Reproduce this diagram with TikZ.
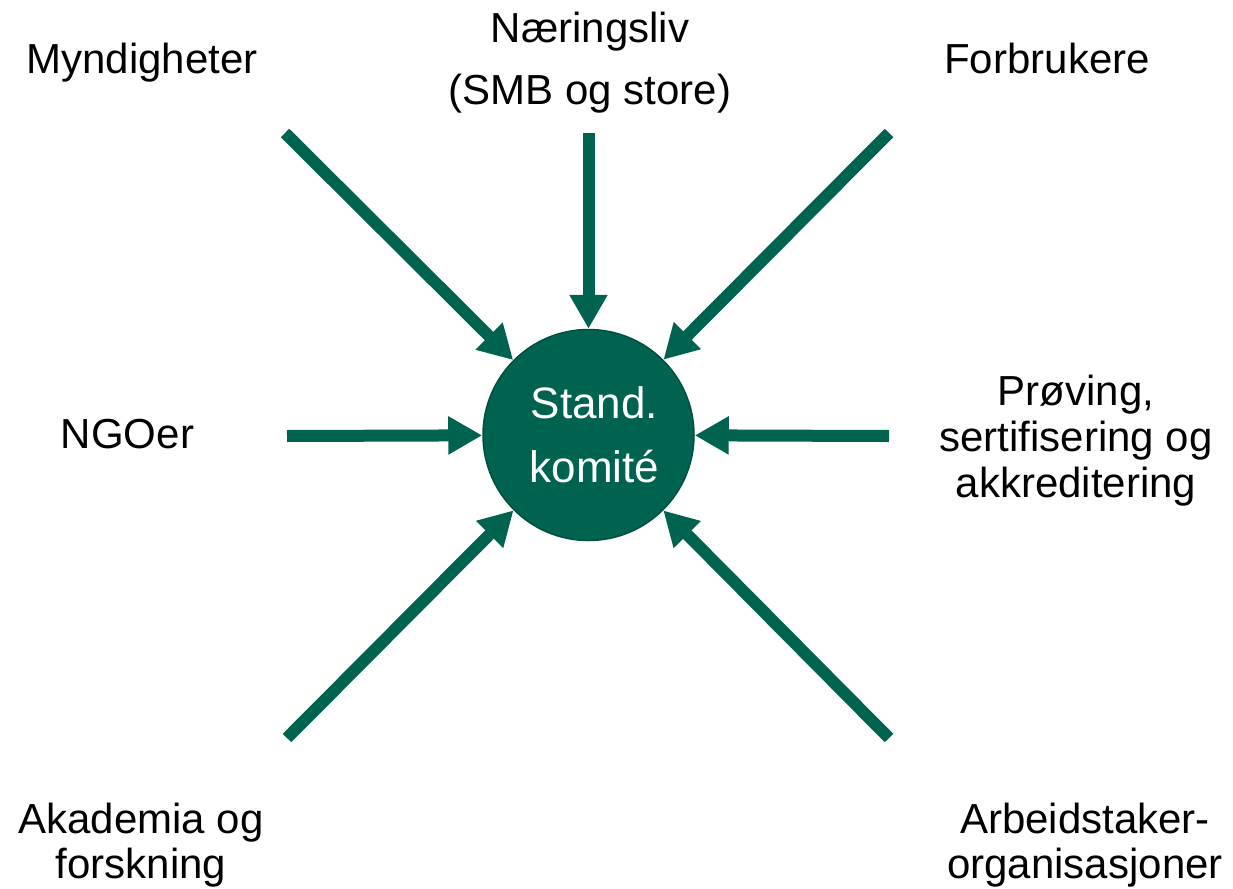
\documentclass[tikz,border=0pt]{standalone}
\usepackage{fontspec}
\setmainfont{Liberation Sans}
\usetikzlibrary{arrows.meta}
\definecolor{sngreen}{RGB}{0,99,80}
\definecolor{sndark}{RGB}{0,80,64}
\newcommand\lblstrut{\rule{0pt}{36pt}}
\begin{document}
\begin{tikzpicture}[x=1pt,y=-1pt,
  lbl/.style={align=center, anchor=north, inner sep=0pt, font=\fontsize{42}{46}\selectfont},
  feed/.style={draw=sngreen, line width=12pt, -{Triangle[length=34pt,width=36pt]}},
  hub/.style={circle, fill=sngreen, draw=sndark, line width=1.5pt, minimum size=211pt,
    inner sep=0pt},
  hubtext/.style={align=center, text=white, inner sep=0pt, xshift=6pt, yshift=0pt,
    font=\fontsize{44}{64}\selectfont}]
\useasboundingbox (0,0) rectangle (1233,888);

\node[hub, label={[hubtext]center:Stand.\\komité}] (hub) at (588.5,435) {};

\node[lbl] (myn) at (142,37) {\lblstrut Myndigheter};
\node[lbl, font=\fontsize{42}{62}\selectfont] (naer) at (590,6) {\lblstrut Næringsliv\\(SMB og store)};
\node[lbl] (forb) at (1047,37) {\lblstrut Forbrukere};
\node[lbl] (ngo) at (127.5,412) {\lblstrut NGOer};
\node[lbl] (prov) at (1076,369) {\lblstrut Prøving,\\sertifisering og\\akkreditering};
\node[lbl, font=\fontsize{42}{45}\selectfont] (akad) at (141,797) {\lblstrut Akademia og\\forskning};
\node[lbl, font=\fontsize{42}{45}\selectfont] (arb) at (1085,797) {\lblstrut Arbeidstaker-\\organisasjoner};

\coordinate (pTL) at (285,133);
\coordinate (pT) at (588.5,133);
\coordinate (pTR) at (889,133);
\coordinate (pL) at (287,436);
\coordinate (pR) at (889,436);
\coordinate (pBL) at (287,738);
\coordinate (pBR) at (889,738);

\draw[feed] (pTL) -- (hub);
\draw[feed] (pT) -- (hub);
\draw[feed] (pTR) -- (hub);
\draw[feed] (pL) -- (hub);
\draw[feed] (pR) -- (hub);
\draw[feed] (pBL) -- (hub);
\draw[feed] (pBR) -- (hub);
\end{tikzpicture}
\end{document}
